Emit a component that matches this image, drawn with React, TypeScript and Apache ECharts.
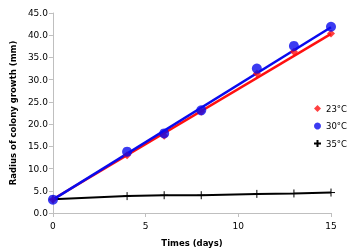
import React, { useEffect, useRef } from "react";
import * as echarts from "echarts";

const days = [0, 4, 6, 8, 11, 13, 15];
const temp23 = [3.0, 13.0, 17.4, 22.8, 31.4, 36.3, 40.4];
const temp30 = [3.0, 13.8, 17.9, 23.1, 32.5, 37.6, 41.9];
const temp35 = [3.1, 3.8, 4.0, 4.0, 4.3, 4.4, 4.6];
const trend23 = [[0, 3.1], [15, 40.3]];
const trend30 = [[0, 3.0], [15, 41.8]];
const seriesNames = ["23°C", "30°C", "35°C"];
const xTicks = [0, 5, 10, 15];

const PLUS = "path://M0,5L10,5M5,0L5,10";

export default function App() {
  const ref = useRef<HTMLDivElement>(null);
  useEffect(() => {
    if (!ref.current) return;
    const chart = echarts.init(ref.current, null, { renderer: "svg" });
    const font = "DejaVu Sans";
    const pair = (ys: number[]) => days.map((d, i) => [d, ys[i]]);
    chart.setOption({
      animation: false,
      textStyle: { fontFamily: font },
      grid: { left: 48, right: 18, top: 13, bottom: 39, containLabel: false },
      legend: {
        orient: "vertical",
        left: 313,
        top: 104,
        padding: 0,
        itemWidth: 7,
        itemHeight: 7,
        itemGap: 8.5,
        textStyle: { fontFamily: font, fontSize: 8.5, color: "#000" },
        data: [
          { name: seriesNames[0], icon: "diamond" },
          { name: seriesNames[1], icon: "circle" },
          { name: seriesNames[2], icon: PLUS },
        ],
      },
      xAxis: {
        type: "value",
        min: xTicks[0],
        max: xTicks[xTicks.length - 1],
        interval: 5,
        name: "Times (days)",
        nameLocation: "middle",
        nameGap: 25,
        nameTextStyle: { fontFamily: font, fontSize: 8.5, fontWeight: "bold", color: "#000" },
        axisLine: { lineStyle: { color: "#bfbfbf" } },
        axisTick: { show: true, length: 4, lineStyle: { color: "#bfbfbf" } },
        axisLabel: { fontFamily: font, fontSize: 9, color: "#000", margin: 8 },
        splitLine: { show: false },
      },
      yAxis: {
        type: "value",
        min: 0,
        max: 45,
        interval: 5,
        name: "Radius of colony growth (mm)",
        nameLocation: "middle",
        nameGap: 34,
        nameTextStyle: { fontFamily: font, fontSize: 8.5, fontWeight: "bold", color: "#000" },
        axisLine: { show: true, lineStyle: { color: "#bfbfbf" } },
        axisTick: { show: true, length: 4, lineStyle: { color: "#bfbfbf" } },
        axisLabel: {
          fontFamily: font,
          fontSize: 9,
          color: "#000",
          margin: 5,
          formatter: (v: number) => v.toFixed(1),
        },
        splitLine: { show: false },
      },
      series: [
        {
          type: "line",
          data: temp35.map((v, i) => [days[i], v]),
          name: seriesNames[2],
          symbol: PLUS,
          symbolSize: 8,
          showSymbol: true,
          lineStyle: { color: "#000", width: 2 },
          itemStyle: { color: "#000", borderColor: "#000", borderWidth: 1 },
          z: 2,
        },
        {
          type: "line",
          data: trend23,
          symbol: "none",
          lineStyle: { color: "#ff1010", width: 2.5 },
          silent: true,
          z: 3,
        },
        {
          type: "line",
          data: trend30,
          symbol: "none",
          lineStyle: { color: "#0a0aee", width: 2.5 },
          silent: true,
          z: 4,
        },
        {
          type: "scatter",
          name: seriesNames[0],
          data: pair(temp23),
          symbol: "diamond",
          symbolSize: 8,
          itemStyle: { color: "#ff1010" },
          z: 5,
        },
        {
          type: "scatter",
          name: seriesNames[1],
          data: pair(temp30),
          symbol: "circle",
          symbolSize: 10,
          itemStyle: { color: "#0a0aee" },
          z: 6,
        },
      ],
    });
    return () => chart.dispose();
  }, []);
  return (
    <div
      ref={ref}
      style={{ position: "fixed", left: 0, top: 0, width: 349, height: 252 }}
    />
  );
}
